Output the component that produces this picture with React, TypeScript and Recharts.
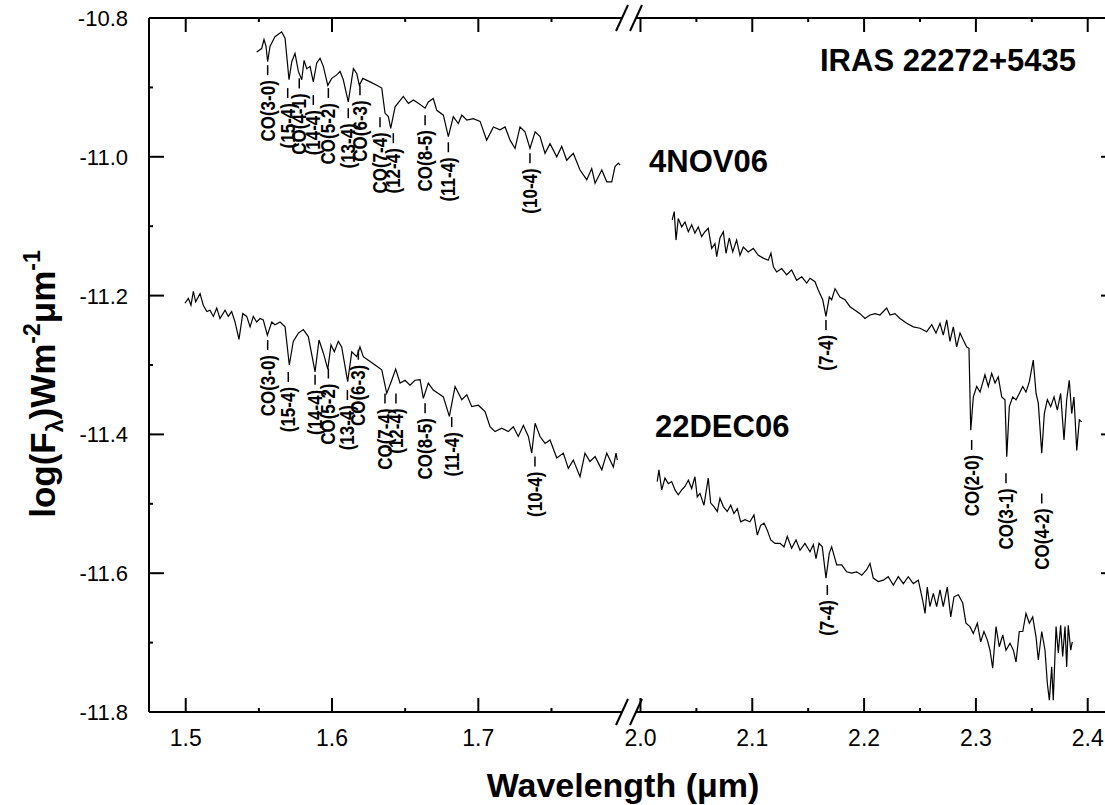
import { LineChart, Line, XAxis, YAxis, ReferenceDot } from "recharts";

const FONT = '"Liberation Sans", Arial, Helvetica, sans-serif';

/* ---------------- spectra ---------------- */

// 4NOV06, H band
const novH_wl = [
  1.5485, 1.5519, 1.5535, 1.5549, 1.556, 1.5576, 1.561, 1.5656, 1.5679, 1.5706,
  1.5725, 1.5747, 1.577, 1.5793, 1.5809, 1.5827, 1.585, 1.5872, 1.5895, 1.5918,
  1.5941, 1.5971, 1.5998, 1.6032, 1.6055, 1.6077, 1.6111, 1.6146, 1.6169, 1.6187,
  1.621, 1.626, 1.6306, 1.634, 1.6362, 1.6385, 1.6401, 1.6431, 1.6487, 1.6522,
  1.6556, 1.659, 1.6636, 1.6658, 1.6692, 1.6716, 1.6761, 1.6795, 1.6829, 1.6863,
  1.6887, 1.6921, 1.6966, 1.7012, 1.7057, 1.7103, 1.7148, 1.7183, 1.7217, 1.7251,
  1.7285, 1.7319, 1.7353, 1.7388, 1.7422, 1.7456, 1.749, 1.7536, 1.757, 1.7604,
  1.7649, 1.7695, 1.7741, 1.7775, 1.7798, 1.7844, 1.7878, 1.7912, 1.7934, 1.7957,
  1.7969,
];
const novH_flux = [
  -10.849, -10.844, -10.831, -10.841, -10.863, -10.841, -10.827, -10.82, -10.829, -10.889,
  -10.863, -10.851, -10.877, -10.889, -10.861, -10.873, -10.87, -10.892, -10.865, -10.858,
  -10.87, -10.897, -10.887, -10.882, -10.877, -10.889, -10.921, -10.873, -10.88, -10.897,
  -10.887, -10.892, -10.897, -10.901, -10.937, -10.942, -10.959, -10.928, -10.913, -10.923,
  -10.918, -10.923, -10.93, -10.921, -10.916, -10.933, -10.94, -10.971, -10.942, -10.952,
  -10.94, -10.947, -10.945, -10.949, -10.976, -10.957, -10.961, -10.957, -10.976, -10.988,
  -10.957, -10.964, -10.988, -10.964, -10.971, -10.995, -10.981, -11.0, -10.985, -11.005,
  -10.995, -11.019, -11.033, -11.017, -11.038, -11.019, -11.036, -11.036, -11.014, -11.009,
  -11.012,
];

// 22DEC06, H band
const decH_wl = [
  1.4995, 1.5018, 1.5036, 1.5052, 1.5068, 1.5098, 1.512, 1.5144, 1.5166, 1.5189,
  1.5212, 1.5234, 1.5269, 1.5291, 1.5314, 1.5337, 1.5364, 1.539, 1.5417, 1.544,
  1.5462, 1.5485, 1.5508, 1.553, 1.5558, 1.5588, 1.561, 1.5645, 1.5679, 1.5708,
  1.5735, 1.577, 1.5804, 1.5838, 1.5884, 1.5911, 1.5941, 1.5971, 1.5993, 1.6016,
  1.6043, 1.6066, 1.6107, 1.6135, 1.6169, 1.6191, 1.6214, 1.6248, 1.6294, 1.634,
  1.6374, 1.6408, 1.6435, 1.6465, 1.6499, 1.6533, 1.6567, 1.6602, 1.6624, 1.6658,
  1.6692, 1.6727, 1.6761, 1.6802, 1.6841, 1.6887, 1.6921, 1.6955, 1.7, 1.7046,
  1.708, 1.7114, 1.716, 1.7205, 1.7239, 1.7273, 1.7308, 1.7342, 1.7365, 1.7388,
  1.7422, 1.7456, 1.749, 1.7536, 1.7581, 1.7615, 1.7649, 1.7695, 1.7729, 1.7763,
  1.7798, 1.7844, 1.7878, 1.79, 1.7923, 1.7941, 1.795,
];
const decH_flux = [
  -11.211, -11.204, -11.214, -11.194, -11.209, -11.197, -11.214, -11.223, -11.221, -11.23,
  -11.218, -11.233, -11.221, -11.23, -11.223, -11.238, -11.263, -11.226, -11.23, -11.245,
  -11.23, -11.238, -11.233, -11.235, -11.257, -11.238, -11.242, -11.238, -11.245, -11.3,
  -11.266, -11.254, -11.249, -11.259, -11.31, -11.264, -11.283, -11.306, -11.271, -11.281,
  -11.266, -11.274, -11.324, -11.281, -11.288, -11.274, -11.288, -11.293, -11.3, -11.307,
  -11.341, -11.322, -11.306, -11.326, -11.322, -11.329, -11.322, -11.321, -11.348, -11.326,
  -11.336, -11.341, -11.346, -11.374, -11.331, -11.35, -11.343, -11.36, -11.358, -11.367,
  -11.389, -11.396, -11.391, -11.396, -11.389, -11.403, -11.387, -11.403, -11.427, -11.384,
  -11.403, -11.413, -11.408, -11.434, -11.427, -11.449, -11.437, -11.461, -11.427, -11.439,
  -11.432, -11.451, -11.427, -11.437, -11.447, -11.427, -11.437,
];

// 4NOV06, K band
const novK_wl = [
  2.0284, 2.0302, 2.0318, 2.0338, 2.0369, 2.0398, 2.0428, 2.0458, 2.0487, 2.0517,
  2.0547, 2.0577, 2.0606, 2.0637, 2.0666, 2.0682, 2.0711, 2.0741, 2.0765, 2.0794,
  2.0825, 2.086, 2.089, 2.092, 2.0964, 2.1009, 2.1054, 2.1098, 2.1143, 2.1167,
  2.1188, 2.1218, 2.1263, 2.1308, 2.1352, 2.1397, 2.1442, 2.1487, 2.1516, 2.1561,
  2.159, 2.163, 2.1659, 2.1689, 2.171, 2.174, 2.1784, 2.1829, 2.1874, 2.1919,
  2.1963, 2.2008, 2.2053, 2.2098, 2.2142, 2.2202, 2.2232, 2.2276, 2.2321, 2.2381,
  2.244, 2.25, 2.256, 2.2605, 2.2643, 2.2679, 2.2708, 2.2739, 2.2768, 2.2798,
  2.2828, 2.2858, 2.2887, 2.2918, 2.2938, 2.2954, 2.2977, 2.3007, 2.3037, 2.3081,
  2.3111, 2.3141, 2.3171, 2.32, 2.3231, 2.326, 2.3276, 2.3299, 2.3329, 2.3359,
  2.3388, 2.3419, 2.3448, 2.3478, 2.3513, 2.3538, 2.3558, 2.3589, 2.3612, 2.3639,
  2.3669, 2.3699, 2.3728, 2.3758, 2.3788, 2.3812, 2.3835, 2.3857, 2.3877, 2.3902,
  2.3925, 2.3946,
];
const novK_flux = [
  -11.091, -11.079, -11.12, -11.089, -11.101, -11.094, -11.108, -11.098, -11.11, -11.101,
  -11.115, -11.108, -11.103, -11.132, -11.125, -11.144, -11.117, -11.108, -11.139, -11.117,
  -11.137, -11.12, -11.142, -11.13, -11.137, -11.132, -11.142, -11.146, -11.149, -11.139,
  -11.158, -11.166, -11.161, -11.17, -11.163, -11.178, -11.173, -11.182, -11.175, -11.18,
  -11.192, -11.206, -11.23, -11.202, -11.206, -11.19, -11.202, -11.206, -11.216, -11.221,
  -11.226, -11.233, -11.228, -11.226, -11.228, -11.218, -11.228, -11.226, -11.233, -11.24,
  -11.245, -11.247, -11.252, -11.242, -11.254, -11.24, -11.257, -11.235, -11.266, -11.245,
  -11.274, -11.254, -11.264, -11.274, -11.276, -11.394, -11.346, -11.331, -11.339, -11.314,
  -11.331, -11.312, -11.326, -11.317, -11.346, -11.35, -11.432, -11.36, -11.346, -11.35,
  -11.341, -11.331, -11.339, -11.324, -11.293, -11.341, -11.355, -11.427, -11.37, -11.35,
  -11.36, -11.346, -11.365, -11.341, -11.408, -11.35, -11.322, -11.37, -11.346, -11.423,
  -11.379, -11.382,
];

// 22DEC06, K band
const decK_wl = [
  2.015, 2.0165, 2.019, 2.0219, 2.0249, 2.0279, 2.0309, 2.0338, 2.0369, 2.0398,
  2.0428, 2.0458, 2.0487, 2.0508, 2.0532, 2.0568, 2.0606, 2.0628, 2.0657, 2.0687,
  2.0711, 2.0741, 2.0776, 2.0807, 2.0836, 2.0866, 2.0896, 2.0935, 2.0979, 2.1015,
  2.1045, 2.1075, 2.1105, 2.1134, 2.1165, 2.1203, 2.1248, 2.1284, 2.1313, 2.1352,
  2.1391, 2.1427, 2.1471, 2.1516, 2.1546, 2.157, 2.1597, 2.1626, 2.1659, 2.1689,
  2.171, 2.1755, 2.18, 2.1844, 2.1889, 2.1934, 2.1979, 2.2023, 2.2053, 2.2082,
  2.2127, 2.2172, 2.2216, 2.2261, 2.2306, 2.2351, 2.2395, 2.244, 2.2485, 2.2524,
  2.2545, 2.2565, 2.2589, 2.2619, 2.2649, 2.2679, 2.2708, 2.2744, 2.2775, 2.2804,
  2.2843, 2.2882, 2.2911, 2.2947, 2.2977, 2.3013, 2.3043, 2.3072, 2.3102, 2.3126,
  2.315, 2.318, 2.3209, 2.324, 2.3269, 2.3305, 2.3335, 2.3359, 2.3388, 2.3419,
  2.3448, 2.3478, 2.3508, 2.3538, 2.3558, 2.3589, 2.3618, 2.3639, 2.3657, 2.3678,
  2.3692, 2.3717, 2.3737, 2.3758, 2.3776, 2.3797, 2.3812, 2.3826, 2.3848, 2.3862,
];
const decK_flux = [
  -11.468, -11.451, -11.48, -11.463, -11.471, -11.468, -11.48, -11.487, -11.48, -11.475,
  -11.466, -11.478, -11.461, -11.49, -11.485, -11.502, -11.463, -11.499, -11.504, -11.511,
  -11.492, -11.504, -11.511, -11.502, -11.514, -11.507, -11.526, -11.523, -11.526, -11.516,
  -11.545, -11.531, -11.528, -11.538, -11.552, -11.557, -11.557, -11.562, -11.547, -11.564,
  -11.552, -11.567, -11.557, -11.569, -11.559, -11.579, -11.557, -11.562, -11.607, -11.571,
  -11.562, -11.588, -11.588, -11.598, -11.6, -11.598, -11.603, -11.595, -11.586, -11.607,
  -11.612, -11.61, -11.605, -11.617, -11.605, -11.615, -11.605, -11.615, -11.61, -11.639,
  -11.658, -11.62, -11.648, -11.629, -11.648, -11.624, -11.648, -11.62, -11.663, -11.634,
  -11.631, -11.643, -11.672, -11.677, -11.687, -11.672, -11.699, -11.684, -11.696, -11.711,
  -11.737, -11.677, -11.706, -11.689, -11.711, -11.701, -11.711, -11.728, -11.684, -11.684,
  -11.658, -11.672, -11.663, -11.692, -11.725, -11.684, -11.711, -11.759, -11.783, -11.735,
  -11.783, -11.677, -11.715, -11.675, -11.72, -11.677, -11.735, -11.675, -11.711, -11.699,
];

/* ---------------- line identifications ---------------- */

const novH_ids = ["CO(3-0)", "(15-4)", "CO(4-1)", "(14-4)", "CO(5-2)", "(13-4)", "CO(6-3)", "CO(7-4)", "(12-4)", "CO(8-5)", "(11-4)", "(10-4)"];
const novH_idWl = [1.556, 1.5697, 1.5776, 1.5872, 1.5975, 1.6111, 1.6191, 1.6328, 1.6419, 1.6636, 1.6795, 1.7353];
const novH_idTop = [-10.868, -10.901, -10.887, -10.911, -10.901, -10.93, -10.897, -10.943, -10.966, -10.94, -10.979, -10.995];

const decH_ids = ["CO(3-0)", "(15-4)", "(14-4)", "CO(5-2)", "(13-4)", "CO(6-3)", "CO(7-4)", "(12-4)", "CO(8-5)", "(11-4)", "(10-4)"];
const decH_idWl = [1.556, 1.5701, 1.5884, 1.5975, 1.6105, 1.618, 1.6362, 1.6437, 1.6636, 1.6818, 1.7387];
const decH_idTop = [-11.264, -11.31, -11.314, -11.305, -11.336, -11.278, -11.341, -11.341, -11.355, -11.375, -11.432];

const novK_ids = ["(7-4)", "CO(2-0)", "CO(3-1)", "CO(4-2)"];
const novK_idWl = [2.1659, 2.2962, 2.3269, 2.3589];
const novK_idTop = [-11.235, -11.408, -11.456, -11.485];

const decK_ids = ["(7-4)"];
const decK_idWl = [2.1671];
const decK_idTop = [-11.617];

/* ---------------- axes ---------------- */

const leftMajorX = [1.5, 1.6, 1.7];
const leftMinorX = [1.55, 1.65, 1.75];
const rightMajorX = [2.0, 2.1, 2.2, 2.3, 2.4];
const rightMinorX = [2.05, 2.15, 2.25, 2.35];
const yMajor = [-10.8, -11.0, -11.2, -11.4, -11.6, -11.8];
const yMinor = [-10.9, -11.1, -11.3, -11.5, -11.7];

const Y_DOMAIN: [number, number] = [-11.8, -10.8];
const LEFT_DOMAIN: [number, number] = [1.4749, 1.7982];
const RIGHT_DOMAIN: [number, number] = [1.996, 2.4253];

const rows = (wl: number[], flux: number[]) => wl.map((w, i) => ({ w, f: flux[i] }));
const isIn = (list: number[], v: number) => list.some((m) => Math.abs(m - v) < 1e-6);

function BottomTick(props: any) {
  const { x, y, payload, majors } = props;
  const major = isIn(majors, payload.value);
  return (
    <g>
      <line x1={x} x2={x} y1={y} y2={y - (major ? 14 : 4)} stroke="#000" strokeWidth={2} />
      {major && (
        <text x={x} y={y + 34} textAnchor="middle" fontSize={23} fontFamily={FONT} fill="#000">
          {payload.value.toFixed(1)}
        </text>
      )}
    </g>
  );
}

function TopTick(props: any) {
  const { x, y, payload, majors } = props;
  const major = isIn(majors, payload.value);
  return <line x1={x} x2={x} y1={y} y2={y + (major ? 14 : 4)} stroke="#000" strokeWidth={2} />;
}

function LeftTick(props: any) {
  const { x, y, payload } = props;
  const major = isIn(yMajor, payload.value);
  return (
    <g>
      <line x1={x} x2={x + (major ? 15 : 4)} y1={y} y2={y} stroke="#000" strokeWidth={2} />
      {major && (
        <text x={x - 21} y={y} dy="0.36em" textAnchor="end" fontSize={22} fontFamily={FONT} fill="#000">
          {payload.value.toFixed(1)}
        </text>
      )}
    </g>
  );
}

function RightTick(props: any) {
  const { x, y, payload } = props;
  const major = isIn(yMajor, payload.value);
  return <line x1={x} x2={x - (major ? 15 : 4)} y1={y} y2={y} stroke="#000" strokeWidth={2} />;
}

// rotated identification with its little marker bar on top
function IdTag(props: any) {
  const { cx, cy, text } = props;
  if (cx == null || cy == null) return null;
  return (
    <g>
      <line x1={cx} x2={cx} y1={cy} y2={cy + 10} stroke="#000" strokeWidth={1.5} />
      <text
        transform={`translate(${cx},${cy + 15}) scale(1.15,1) rotate(-90)`}
        dy="0.36em"
        textAnchor="end"
        fontSize={17}
        fontWeight="bold"
        fontFamily={FONT}
        fill="#000"
      >
        {text}
      </text>
    </g>
  );
}

const axisLine = { stroke: "#000", strokeWidth: 2 };

function idDots(ids: string[], wl: number[], top: number[], yAxisId: string) {
  return ids.map((t, i) => (
    <ReferenceDot
      key={t + i}
      x={wl[i]}
      y={top[i]}
      r={0}
      yAxisId={yAxisId}
      ifOverflow="visible"
      shape={(p: any) => <IdTag cx={p.cx} cy={p.cy} text={t} />}
    />
  ));
}

export default function App() {
  const bold = { fontFamily: FONT, fontWeight: "bold" as const, fill: "#000" };
  return (
    <div style={{ position: "absolute", left: 0, top: 0, width: 1105, height: 805, overflow: "hidden", background: "#fff" }}>
      {/* left part: 1.5 - 1.8 um */}
      <div style={{ position: "absolute", left: 0, top: 0, width: 622, height: 805 }}>
        <LineChart width={622} height={805} margin={{ top: 0, right: 0, bottom: 0, left: 0 }}>
          <XAxis
            dataKey="w"
            type="number"
            domain={LEFT_DOMAIN}
            allowDataOverflow
            ticks={[...leftMajorX, ...leftMinorX].sort()}
            interval={0}
            height={93}
            tickSize={0}
            tickMargin={0}
            axisLine={axisLine}
            tick={(p: any) => <BottomTick {...p} majors={leftMajorX} />}
          />
          <XAxis
            xAxisId="top"
            orientation="top"
            dataKey="w"
            type="number"
            domain={LEFT_DOMAIN}
            allowDataOverflow
            ticks={[...leftMajorX, ...leftMinorX].sort()}
            interval={0}
            height={18}
            tickSize={0}
            tickMargin={0}
            axisLine={axisLine}
            tick={(p: any) => <TopTick {...p} majors={leftMajorX} />}
          />
          <YAxis
            yAxisId="l"
            type="number"
            domain={Y_DOMAIN}
            allowDataOverflow
            ticks={[...yMajor, ...yMinor]}
            interval={0}
            width={149}
            tickSize={0}
            tickMargin={0}
            axisLine={axisLine}
            tick={(p: any) => <LeftTick {...p} />}
          />
          <Line data={rows(novH_wl, novH_flux)} dataKey="f" yAxisId="l" type="linear" dot={false} stroke="#000" strokeWidth={1.2} isAnimationActive={false} />
          <Line data={rows(decH_wl, decH_flux)} dataKey="f" yAxisId="l" type="linear" dot={false} stroke="#000" strokeWidth={1.2} isAnimationActive={false} />
          {idDots(novH_ids, novH_idWl, novH_idTop, "l")}
          {idDots(decH_ids, decH_idWl, decH_idTop, "l")}
        </LineChart>
      </div>

      {/* right part: 2.0 - 2.4 um (plot area starts at x = 636) */}
      <div style={{ position: "absolute", left: 600, top: 0, width: 505, height: 805, overflow: "hidden" }}>
        <LineChart width={526} height={805} margin={{ top: 0, right: 0, bottom: 0, left: 36 }}>
          <XAxis
            dataKey="w"
            type="number"
            domain={RIGHT_DOMAIN}
            allowDataOverflow
            ticks={[...rightMajorX, ...rightMinorX].sort()}
            interval={0}
            height={93}
            tickSize={0}
            tickMargin={0}
            axisLine={axisLine}
            tick={(p: any) => <BottomTick {...p} majors={rightMajorX} />}
          />
          <XAxis
            xAxisId="top"
            orientation="top"
            dataKey="w"
            type="number"
            domain={RIGHT_DOMAIN}
            allowDataOverflow
            ticks={[...rightMajorX, ...rightMinorX].sort()}
            interval={0}
            height={18}
            tickSize={0}
            tickMargin={0}
            axisLine={axisLine}
            tick={(p: any) => <TopTick {...p} majors={rightMajorX} />}
          />
          <YAxis
            yAxisId="r"
            orientation="right"
            type="number"
            domain={Y_DOMAIN}
            allowDataOverflow
            ticks={[...yMajor, ...yMinor]}
            interval={0}
            width={10}
            tickSize={0}
            tickMargin={0}
            axisLine={axisLine}
            tick={(p: any) => <RightTick {...p} />}
          />
          <Line data={rows(novK_wl, novK_flux)} dataKey="f" yAxisId="r" type="linear" dot={false} stroke="#000" strokeWidth={1.2} isAnimationActive={false} />
          <Line data={rows(decK_wl, decK_flux)} dataKey="f" yAxisId="r" type="linear" dot={false} stroke="#000" strokeWidth={1.2} isAnimationActive={false} />
          {idDots(novK_ids, novK_idWl, novK_idTop, "r")}
          {idDots(decK_ids, decK_idWl, decK_idTop, "r")}
        </LineChart>
      </div>

      {/* axis break marks, titles and labels */}
      <svg width={1105} height={805} style={{ position: "absolute", left: 0, top: 0, pointerEvents: "none" }}>
        <g stroke="#000" strokeWidth={2}>
          <line x1={616} y1={31} x2={628} y2={5} />
          <line x1={630} y1={31} x2={642} y2={5} />
          <line x1={616} y1={725} x2={628} y2={699} />
          <line x1={630} y1={725} x2={642} y2={699} />
        </g>
        <text x={820} y={71} fontSize={31} {...bold}>IRAS 22272+5435</text>
        <text x={649} y={172} fontSize={31} {...bold}>4NOV06</text>
        <text x={655} y={437} fontSize={31} {...bold}>22DEC06</text>
        <text x={623} y={797} textAnchor="middle" fontSize={34} {...bold}>Wavelength (μm)</text>
        <text transform="translate(55,384) rotate(-90)" textAnchor="middle" fontSize={35} {...bold}>
          log(F<tspan fontSize={23} dy={8}>λ</tspan>
          <tspan dy={-8}>)Wm</tspan>
          <tspan fontSize={23} dy={-15}>-2</tspan>
          <tspan dy={15}>μm</tspan>
          <tspan fontSize={23} dy={-15}>-1</tspan>
        </text>
      </svg>
    </div>
  );
}
